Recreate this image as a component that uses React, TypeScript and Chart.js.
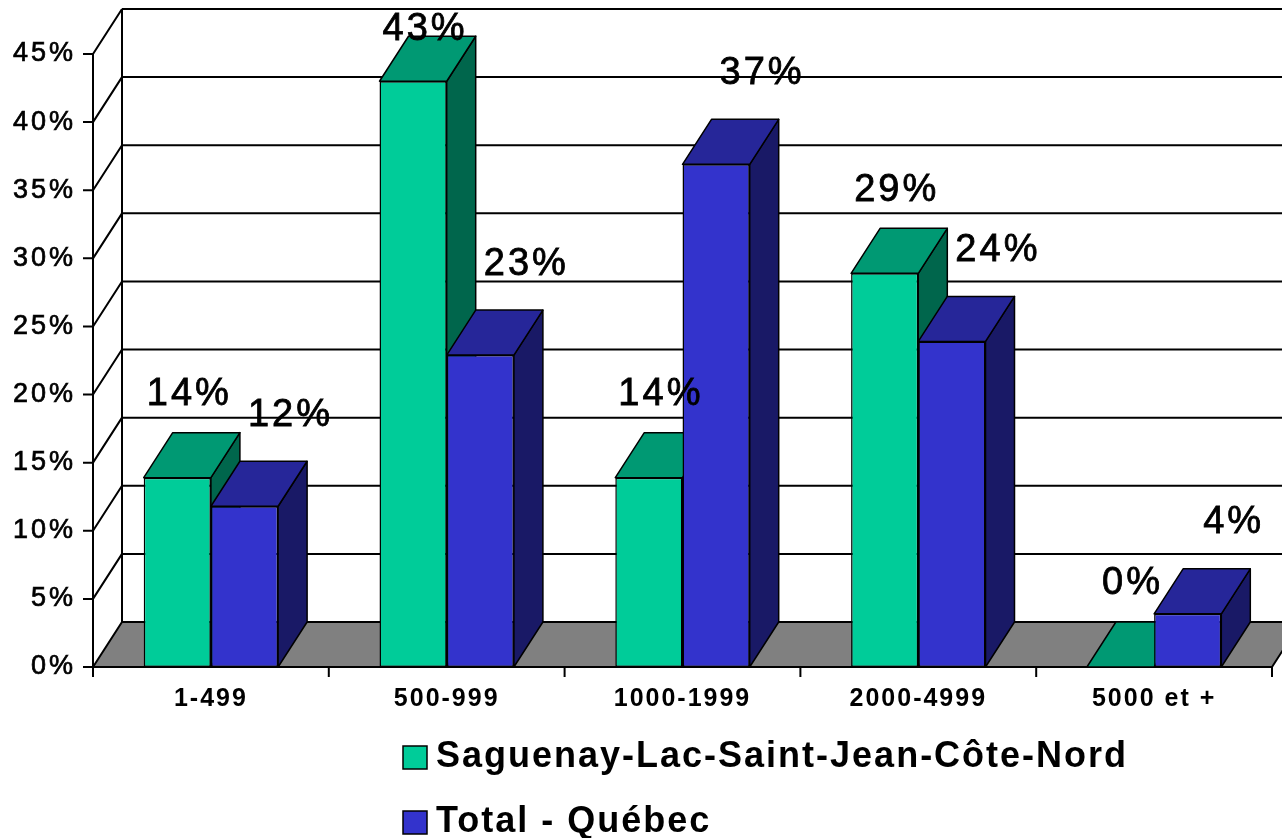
import React, { useEffect, useRef } from "react";
import { Chart, registerables } from "chart.js";

Chart.register(...registerables);

const categories = ["1-499", "500-999", "1000-1999", "2000-4999", "5000 et +"];
const seriesNames = ["Saguenay-Lac-Saint-Jean-Côte-Nord", "Total - Québec"];
const saguenayValues = [13.9, 43.0, 13.9, 28.9, 0];
const quebecValues = [11.8, 22.9, 36.9, 23.9, 3.9];
const yMin = 0;
const yMax = 45;
const yStep = 5;

const frontColors = ["#00CC99", "#3333CC"];
const topColors = ["#009973", "#262699"];
const sideColors = ["#00664C", "#191966"];
const floorColor = "#808080";

const FONT = '"Liberation Sans", Arial, Helvetica, sans-serif';
const DX = 29;
const DY = 45;
const LABEL_OFF_X = [12, 46];
const LABEL_OFF_Y = [38, 46];

const threeD = {
  id: "threeD",
  beforeDraw(chart: any) {
    chart.ctx.letterSpacing = "2px";
  },
  beforeDatasetsDraw(chart: any) {
    const ctx = chart.ctx as CanvasRenderingContext2D;
    const { left, right, top, bottom } = chart.chartArea;
    const ys = chart.scales.y;
    ctx.save();
    ctx.letterSpacing = "0px";
    ctx.strokeStyle = "#000";
    ctx.lineWidth = 2;
    ctx.lineJoin = "round";

    // floor
    ctx.beginPath();
    ctx.moveTo(left, bottom);
    ctx.lineTo(right, bottom);
    ctx.lineTo(right + DX, bottom - DY);
    ctx.lineTo(left + DX, bottom - DY);
    ctx.closePath();
    ctx.fillStyle = floorColor;
    ctx.fill();
    ctx.stroke();

    // grid lines on back wall & left wall, y tick marks
    ys.ticks.forEach((t: any) => {
      const py = ys.getPixelForValue(t.value);
      ctx.beginPath();
      if (t.value > 0) {
        ctx.moveTo(left + DX, py - DY);
        ctx.lineTo(right + DX, py - DY);
        ctx.moveTo(left, py);
        ctx.lineTo(left + DX, py - DY);
      }
      ctx.moveTo(left - 10, py);
      ctx.lineTo(left, py);
      ctx.stroke();
    });

    // back wall left edge & front axis
    ctx.beginPath();
    ctx.moveTo(left + DX, top - DY);
    ctx.lineTo(left + DX, bottom - DY);
    ctx.moveTo(left, top);
    ctx.lineTo(left, bottom);
    ctx.stroke();

    // x tick marks at category boundaries
    const n = categories.length;
    const cw = (right - left) / n;
    ctx.beginPath();
    for (let i = 0; i <= n; i++) {
      const px = left + i * cw;
      ctx.moveTo(px, bottom);
      ctx.lineTo(px, bottom + 10);
    }
    ctx.stroke();

    // bar sides and tops (fronts drawn by Chart.js afterwards)
    ctx.lineWidth = 1.5;
    for (let i = 0; i < n; i++) {
      chart.data.datasets.forEach((ds: any, d: number) => {
        const meta = chart.getDatasetMeta(d);
        const el = meta.data[i];
        if (!el) return;
        const { x, y, base, width } = el.getProps(["x", "y", "base", "width"], true);
        const l = x - width / 2;
        const r = x + width / 2;
        // side
        ctx.beginPath();
        ctx.moveTo(r, y);
        ctx.lineTo(r + DX, y - DY);
        ctx.lineTo(r + DX, base - DY);
        ctx.lineTo(r, base);
        ctx.closePath();
        ctx.fillStyle = sideColors[d];
        ctx.fill();
        ctx.stroke();
        // top
        ctx.beginPath();
        ctx.moveTo(l, y);
        ctx.lineTo(r, y);
        ctx.lineTo(r + DX, y - DY);
        ctx.lineTo(l + DX, y - DY);
        ctx.closePath();
        ctx.fillStyle = topColors[d];
        ctx.fill();
        ctx.stroke();
      });
    }
    ctx.restore();
  },
  afterDatasetsDraw(chart: any) {
    const ctx = chart.ctx as CanvasRenderingContext2D;
    ctx.save();
    ctx.letterSpacing = "3px";
    ctx.font = `38px ${FONT}`;
    ctx.fillStyle = "#000";
    ctx.strokeStyle = "#000";
    ctx.lineWidth = 0.8;
    ctx.textAlign = "center";
    ctx.textBaseline = "middle";
    chart.data.datasets.forEach((ds: any, d: number) => {
      const meta = chart.getDatasetMeta(d);
      meta.data.forEach((el: any, i: number) => {
        const { x, y } = el.getProps(["x", "y"], true);
        const v = ds.data[i];
        let cy = y - DY - LABEL_OFF_Y[d];
        if (cy < 30) cy = 30;
        const txt = `${Math.round(v)}%`;
        ctx.fillText(txt, x + LABEL_OFF_X[d], cy);
        ctx.strokeText(txt, x + LABEL_OFF_X[d], cy);
      });
    });
    ctx.restore();
    ctx.letterSpacing = "3px";
  },
  afterDraw(chart: any) {
    const ctx = chart.ctx as CanvasRenderingContext2D;
    ctx.save();
    ctx.letterSpacing = "2px";
    ctx.font = `bold 36px ${FONT}`;
    ctx.textAlign = "left";
    ctx.textBaseline = "middle";
    const rows = [757, 822];
    seriesNames.forEach((name, d) => {
      const cy = rows[d];
      ctx.fillStyle = frontColors[d];
      ctx.fillRect(403, cy - 11, 24, 23);
      ctx.strokeStyle = "#000";
      ctx.lineWidth = 1.5;
      ctx.strokeRect(403, cy - 11, 24, 23);
      ctx.fillStyle = "#000";
      ctx.fillText(name, 436, cy);
    });
    ctx.restore();
    ctx.letterSpacing = "0px";
  },
};

export default function App() {
  const ref = useRef<HTMLCanvasElement | null>(null);
  useEffect(() => {
    document.body.style.margin = "0";
    const canvas = ref.current;
    if (!canvas) return;
    const chart = new Chart(canvas, {
      type: "bar",
      data: {
        labels: categories,
        datasets: [
          {
            label: seriesNames[0],
            data: saguenayValues,
            backgroundColor: frontColors[0],
            borderColor: "#000",
            borderWidth: 1.5,
            borderSkipped: false,
          },
          {
            label: seriesNames[1],
            data: quebecValues,
            backgroundColor: frontColors[1],
            borderColor: "#000",
            borderWidth: 1.5,
            borderSkipped: false,
          },
        ],
      },
      options: {
        responsive: false,
        animation: false,
        devicePixelRatio: 1,
        layout: { padding: { top: 54, right: 10, left: 0, bottom: 0 } },
        datasets: { bar: { categoryPercentage: 0.57, barPercentage: 1 } },
        plugins: {
          legend: { display: false },
          tooltip: { enabled: false },
        },
        scales: {
          x: {
            type: "category",
            grid: { display: false, drawTicks: false },
            border: { display: false },
            ticks: {
              color: "#000",
              font: { family: FONT, size: 25, weight: "bold" },
              padding: 17,
              maxRotation: 0,
              autoSkip: false,
            },
            afterFit(s: any) {
              s.height = 171;
            },
          },
          y: {
            min: yMin,
            max: yMax,
            grid: { display: false, drawTicks: false },
            border: { display: false },
            ticks: {
              stepSize: yStep,
              color: "#000",
              font: { family: FONT, size: 27 },
              textStrokeColor: "#000",
              textStrokeWidth: 0.7,
              padding: 17,
              z: 1,
              callback: (v: any) => `${v}%`,
            },
            afterFit(s: any) {
              s.width = 93;
            },
          },
        },
      } as any,
      plugins: [threeD],
    });
    return () => chart.destroy();
  }, []);
  return (
    <div style={{ width: 1282, height: 838 }}>
      <canvas ref={ref} width={1282} height={838} style={{ display: "block" }} />
    </div>
  );
}
